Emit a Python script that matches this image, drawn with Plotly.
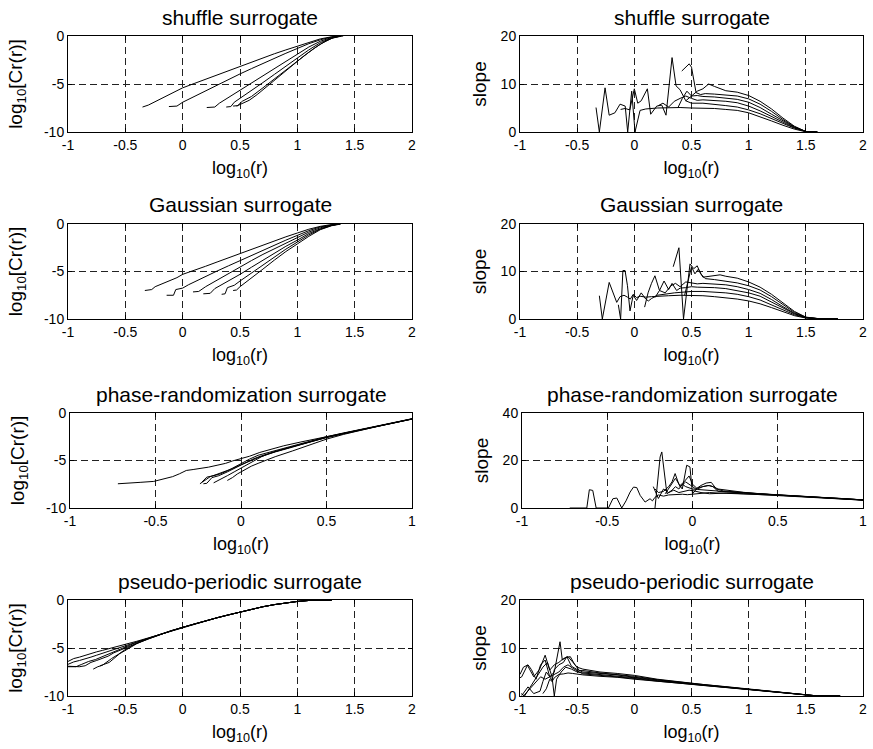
import plotly.graph_objects as go

# ---------------------------------------------------------------------------
# Correlation-integral curves log10[Cr(r)] and local slopes for four surrogate
# types, six embedding dimensions each.
# ---------------------------------------------------------------------------

# --- shuffle surrogate: correlation integral ---
shuffle_corr_x = [
    [-0.35, -0.3, -0.25, -0.2, -0.1, 0.0, 0.1, 0.2, 0.3, 0.4, 0.5, 0.6, 0.7, 0.8, 0.9, 1.0, 1.1, 1.2, 1.3, 1.38],
    [-0.12, -0.05, 0.0, 0.05, 0.1, 0.2, 0.3, 0.4, 0.5, 0.6, 0.7, 0.8, 0.9, 1.0, 1.1, 1.2, 1.3, 1.38],
    [0.21, 0.28, 0.32, 0.4, 0.5, 0.6, 0.7, 0.8, 0.9, 1.0, 1.1, 1.2, 1.3, 1.38],
    [0.38, 0.42, 0.45, 0.5, 0.6, 0.7, 0.8, 0.9, 1.0, 1.1, 1.2, 1.3, 1.38],
    [0.44, 0.48, 0.52, 0.6, 0.7, 0.8, 0.9, 1.0, 1.1, 1.2, 1.3, 1.38],
    [0.47, 0.52, 0.58, 0.65, 0.75, 0.85, 0.95, 1.05, 1.15, 1.25, 1.32, 1.4],
]
shuffle_corr_y = [
    [-7.4, -7.2, -6.9, -6.6, -6.0, -5.4, -4.95, -4.5, -4.05, -3.6, -3.15, -2.7, -2.3, -1.85, -1.45, -1.05, -0.65, -0.3, -0.08, 0.0],
    [-7.35, -7.3, -6.9, -6.6, -6.3, -5.7, -5.1, -4.5, -3.95, -3.4, -2.85, -2.3, -1.8, -1.3, -0.8, -0.4, -0.1, 0.0],
    [-7.45, -7.4, -7.0, -6.4, -5.6, -4.85, -4.1, -3.35, -2.6, -1.9, -1.15, -0.55, -0.15, 0.0],
    [-7.4, -7.35, -6.9, -6.5, -5.7, -4.85, -4.0, -3.15, -2.3, -1.45, -0.7, -0.2, 0.0],
    [-7.3, -7.25, -6.8, -6.3, -5.4, -4.45, -3.5, -2.6, -1.7, -0.85, -0.25, 0.0],
    [-7.3, -7.0, -6.7, -6.1, -5.1, -4.1, -3.1, -2.15, -1.25, -0.5, -0.15, 0.0],
]

# --- shuffle surrogate: local slope ---
shuffle_slope_x = [
    [-0.335, -0.306, -0.256, -0.22, -0.17, -0.125, -0.08, -0.058, -0.023, 0.006, 0.05, 0.1, 0.2, 0.3, 0.4, 0.5, 0.6, 0.7, 0.8, 0.9, 1.0, 1.1, 1.2, 1.3, 1.4, 1.5, 1.6],
    [-0.12, -0.08, -0.04, 0.0, 0.03, 0.06, 0.114, 0.143, 0.196, 0.24, 0.277, 0.33, 0.365, 0.4, 0.45, 0.5, 0.6, 0.7, 0.8, 0.9, 1.0, 1.1, 1.2, 1.3, 1.4, 1.5, 1.6],
    [0.21, 0.25, 0.3, 0.35, 0.4, 0.45, 0.5, 0.55, 0.6, 0.7, 0.8, 0.9, 1.0, 1.1, 1.2, 1.3, 1.4, 1.5, 1.6],
    [0.38, 0.42, 0.46, 0.5, 0.55, 0.6, 0.7, 0.8, 0.9, 1.0, 1.1, 1.2, 1.3, 1.4, 1.5, 1.6],
    [0.415, 0.48, 0.5, 0.54, 0.58, 0.62, 0.7, 0.8, 0.9, 1.0, 1.1, 1.2, 1.3, 1.4, 1.5, 1.6],
    [0.45, 0.5, 0.55, 0.6, 0.65, 0.7, 0.8, 0.9, 1.0, 1.1, 1.2, 1.3, 1.4, 1.5, 1.6],
]
shuffle_slope_y = [
    [5.1, 0.0, 9.2, 3.5, 4.0, 5.8, 5.4, 0.0, 8.5, 0.0, 4.5, 4.8, 5.0, 5.1, 5.1, 5.0, 5.0, 4.9, 4.7, 4.5, 4.0, 3.2, 2.3, 1.4, 0.6, 0.05, 0.0],
    [4.7, 4.9, 4.6, 9.0, 6.0, 6.5, 9.0, 3.7, 5.4, 5.6, 3.5, 15.5, 9.6, 8.8, 6.5, 6.0, 6.0, 5.8, 5.5, 5.2, 4.6, 3.8, 2.8, 1.7, 0.8, 0.1, 0.0],
    [5.5, 6.0, 5.2, 6.4, 7.0, 7.5, 7.0, 6.6, 6.7, 6.6, 6.4, 6.1, 5.4, 4.4, 3.2, 2.0, 0.9, 0.1, 0.0],
    [5.0, 7.0, 8.5, 7.5, 7.6, 7.4, 7.3, 7.0, 6.8, 6.2, 5.1, 3.7, 2.3, 1.0, 0.1, 0.0],
    [12.7, 14.2, 13.5, 8.2, 7.8, 8.0, 7.9, 7.7, 7.5, 6.9, 5.8, 4.3, 2.6, 1.1, 0.1, 0.0],
    [6.5, 7.5, 8.5, 9.0, 10.0, 9.5, 8.6, 8.3, 7.6, 6.4, 4.8, 2.9, 1.2, 0.1, 0.0],
]

# --- Gaussian surrogate: correlation integral ---
gauss_corr_x = [
    [-0.33, -0.3, -0.27, -0.24, -0.15, -0.05, 0.0, 0.1, 0.2, 0.3, 0.4, 0.5, 0.6, 0.7, 0.8, 0.9, 1.0, 1.1, 1.2, 1.3, 1.37],
    [-0.14, -0.08, -0.06, 0.0, 0.05, 0.15, 0.3, 0.4, 0.5, 0.6, 0.7, 0.8, 0.9, 1.0, 1.1, 1.2, 1.3, 1.37],
    [0.09, 0.14, 0.2, 0.3, 0.4, 0.5, 0.6, 0.7, 0.8, 0.9, 1.0, 1.1, 1.2, 1.3, 1.37],
    [0.18, 0.24, 0.28, 0.4, 0.5, 0.6, 0.7, 0.8, 0.9, 1.0, 1.1, 1.2, 1.3, 1.37],
    [0.34, 0.37, 0.39, 0.45, 0.5, 0.6, 0.7, 0.8, 0.9, 1.0, 1.1, 1.2, 1.3, 1.37],
    [0.44, 0.47, 0.5, 0.6, 0.7, 0.8, 0.9, 1.0, 1.1, 1.2, 1.3, 1.38],
]
gauss_corr_y = [
    [-7.0, -6.95, -6.9, -6.6, -6.15, -5.65, -5.3, -4.9, -4.45, -4.0, -3.55, -3.1, -2.65, -2.2, -1.8, -1.35, -0.95, -0.55, -0.25, -0.05, 0.0],
    [-7.5, -7.5, -6.9, -6.75, -6.4, -5.8, -4.95, -4.4, -3.85, -3.3, -2.75, -2.25, -1.7, -1.2, -0.7, -0.3, -0.08, 0.0],
    [-7.15, -7.1, -6.6, -5.9, -5.2, -4.5, -3.85, -3.2, -2.6, -2.0, -1.45, -0.85, -0.4, -0.1, 0.0],
    [-7.35, -7.3, -6.8, -6.0, -5.3, -4.55, -3.8, -3.05, -2.35, -1.7, -1.0, -0.5, -0.12, 0.0],
    [-7.4, -7.35, -6.7, -6.45, -6.0, -5.15, -4.3, -3.45, -2.65, -1.9, -1.15, -0.55, -0.15, 0.0],
    [-7.0, -6.95, -6.6, -5.7, -4.75, -3.8, -2.9, -2.1, -1.3, -0.6, -0.18, 0.0],
]

# --- Gaussian surrogate: local slope ---
gauss_slope_x = [
    [-0.306, -0.28, -0.22, -0.154, -0.125, -0.09, -0.06, -0.035, -0.01, 0.02, 0.05, 0.1, 0.15, 0.2, 0.3, 0.4, 0.5, 0.6, 0.7, 0.8, 0.9, 1.0, 1.1, 1.2, 1.3, 1.4, 1.5, 1.6, 1.7, 1.78],
    [-0.14, -0.12, -0.1, -0.081, -0.06, -0.038, -0.01, 0.02, 0.06, 0.1, 0.123, 0.15, 0.2, 0.25, 0.3, 0.35, 0.4, 0.45, 0.5, 0.6, 0.7, 0.8, 0.9, 1.0, 1.1, 1.2, 1.3, 1.4, 1.5, 1.6, 1.7, 1.78],
    [0.09, 0.12, 0.15, 0.18, 0.22, 0.26, 0.3, 0.33, 0.37, 0.4, 0.45, 0.5, 0.55, 0.6, 0.7, 0.8, 0.9, 1.0, 1.1, 1.2, 1.3, 1.4, 1.5, 1.6, 1.7, 1.78],
    [0.18, 0.22, 0.27, 0.32, 0.36, 0.4, 0.45, 0.5, 0.55, 0.6, 0.7, 0.8, 0.9, 1.0, 1.1, 1.2, 1.3, 1.4, 1.5, 1.6, 1.7, 1.78],
    [0.34, 0.365, 0.39, 0.43, 0.46, 0.487, 0.52, 0.55, 0.58, 0.62, 0.7, 0.8, 0.9, 1.0, 1.1, 1.2, 1.3, 1.4, 1.5, 1.6, 1.7, 1.78],
    [0.44, 0.47, 0.5, 0.53, 0.56, 0.6, 0.65, 0.7, 0.75, 0.8, 0.9, 1.0, 1.1, 1.2, 1.3, 1.4, 1.5, 1.6, 1.7, 1.78],
]
gauss_slope_y = [
    [4.9, 0.0, 7.7, 3.5, 4.7, 5.0, 4.6, 4.2, 5.2, 4.5, 4.8, 4.6, 4.7, 4.8, 4.9, 5.0, 5.0, 4.9, 4.7, 4.5, 4.2, 3.8, 3.2, 2.4, 1.5, 0.7, 0.2, 0.05, 0.02, 0.0],
    [3.0, 0.0, 10.2, 10.2, 7.0, 1.7, 5.0, 3.9, 5.5, 4.2, 3.8, 4.3, 5.0, 5.2, 5.3, 5.5, 5.6, 5.7, 5.8, 5.8, 5.7, 5.5, 5.2, 4.7, 4.0, 3.0, 1.9, 0.9, 0.25, 0.05, 0.02, 0.0],
    [2.5, 5.5, 7.5, 9.1, 6.0, 8.0, 6.2, 7.5, 6.0, 6.5, 6.6, 6.8, 6.7, 6.7, 6.6, 6.4, 6.0, 5.5, 4.8, 3.6, 2.3, 1.1, 0.3, 0.08, 0.03, 0.0],
    [4.5, 6.0, 5.5, 7.0, 7.5, 6.8, 7.8, 7.6, 7.4, 7.5, 7.4, 7.2, 6.8, 6.2, 5.4, 4.1, 2.6, 1.2, 0.3, 0.08, 0.03, 0.0],
    [11.0, 13.0, 15.0, 0.0, 6.0, 11.6, 10.6, 11.2, 9.5, 8.5, 8.3, 8.0, 7.6, 7.0, 6.1, 4.7, 3.0, 1.4, 0.35, 0.1, 0.03, 0.0],
    [5.0, 8.0, 11.0, 9.5, 10.5, 8.8, 9.0, 9.2, 9.3, 9.0, 8.6, 7.8, 6.7, 5.2, 3.4, 1.6, 0.4, 0.1, 0.03, 0.0],
]

# --- phase-randomization surrogate: correlation integral ---
phase_corr_x = [
    [-0.72, -0.65, -0.59, -0.51, -0.45, -0.4, -0.36, -0.32, -0.28, -0.24, -0.19, -0.14, -0.09, -0.05, 0.0, 0.05, 0.11, 0.18, 0.25, 0.35, 0.5, 0.6, 0.73, 0.85, 1.0],
    [-0.24, -0.21, -0.18, -0.14, -0.1, -0.05, 0.0, 0.05, 0.1, 0.15, 0.2, 0.3, 0.4, 0.5, 0.6, 0.7, 0.8, 0.9, 1.0],
    [-0.22, -0.2, -0.17, -0.13, -0.08, -0.03, 0.02, 0.07, 0.12, 0.18, 0.25, 0.35, 0.45, 0.5, 0.6, 0.7, 0.8, 0.9, 1.0],
    [-0.16, -0.12, -0.08, -0.04, 0.0, 0.04, 0.08, 0.12, 0.16, 0.2, 0.3, 0.4, 0.5, 0.6, 0.7, 0.8, 0.9, 1.0],
    [-0.08, -0.05, -0.02, 0.02, 0.06, 0.1, 0.15, 0.2, 0.3, 0.4, 0.5, 0.6, 0.7, 0.8, 0.9, 1.0],
    [-0.23, -0.2, -0.16, -0.12, -0.08, -0.04, 0.0, 0.05, 0.1, 0.15, 0.2, 0.3, 0.4, 0.5, 0.6, 0.7, 0.8, 0.9, 1.0],
]
phase_corr_y = [
    [-7.45, -7.4, -7.3, -7.2, -6.95, -6.7, -6.4, -6.05, -5.95, -5.85, -5.7, -5.5, -5.3, -5.05, -4.8, -4.55, -4.15, -3.8, -3.45, -3.05, -2.5, -2.15, -1.65, -1.2, -0.65],
    [-7.45, -7.1, -6.7, -6.45, -6.2, -5.85, -5.45, -5.05, -4.7, -4.4, -4.1, -3.6, -3.05, -2.55, -2.15, -1.75, -1.35, -1.0, -0.62],
    [-7.45, -7.4, -6.8, -6.6, -6.2, -5.75, -5.3, -4.85, -4.5, -4.15, -3.8, -3.3, -2.8, -2.6, -2.2, -1.78, -1.38, -1.02, -0.63],
    [-7.35, -7.0, -6.6, -6.2, -5.8, -5.35, -4.95, -4.6, -4.3, -4.05, -3.55, -3.05, -2.55, -2.15, -1.75, -1.36, -1.0, -0.62],
    [-7.1, -6.8, -6.4, -6.0, -5.6, -5.3, -4.95, -4.6, -4.0, -3.35, -2.75, -2.25, -1.8, -1.4, -1.02, -0.63],
    [-7.3, -6.75, -6.6, -6.4, -6.1, -5.7, -5.3, -4.85, -4.45, -4.2, -3.95, -3.45, -2.95, -2.5, -2.1, -1.7, -1.32, -0.98, -0.6],
]

# --- phase-randomization surrogate: local slope ---
phase_slope_x = [
    [-0.72, -0.62, -0.605, -0.585, -0.565, -0.493, -0.467, -0.444, -0.415, -0.39, -0.366, -0.346, -0.327, -0.307, -0.278, -0.249, -0.235, -0.22, -0.2, -0.17, -0.14, -0.1, -0.06, -0.03, 0.0, 0.03, 0.06, 0.1, 0.15, 0.2, 0.3, 0.4, 0.5, 0.6, 0.7, 0.8, 0.9, 1.0],
    [-0.22, -0.206, -0.19, -0.18, -0.167, -0.15, -0.12, -0.1, -0.08, -0.06, -0.04, -0.02, 0.0, 0.03, 0.06, 0.1, 0.15, 0.2, 0.3, 0.4, 0.5, 0.6, 0.7, 0.8, 0.9, 1.0],
    [-0.22, -0.2, -0.17, -0.14, -0.12, -0.102, -0.08, -0.06, -0.034, -0.015, 0.0, 0.03, 0.06, 0.1, 0.12, 0.15, 0.2, 0.3, 0.4, 0.5, 0.6, 0.7, 0.8, 0.9, 1.0],
    [-0.16, -0.13, -0.1, -0.07, -0.04, -0.01, 0.02, 0.05, 0.08, 0.11, 0.14, 0.18, 0.25, 0.3, 0.4, 0.5, 0.6, 0.7, 0.8, 0.9, 1.0],
    [-0.08, -0.05, -0.02, 0.0, 0.03, 0.06, 0.09, 0.12, 0.15, 0.2, 0.3, 0.4, 0.5, 0.6, 0.7, 0.8, 0.9, 1.0],
    [-0.23, -0.2, -0.17, -0.14, -0.11, -0.08, -0.05, -0.02, 0.01, 0.05, 0.1, 0.15, 0.2, 0.3, 0.4, 0.5, 0.6, 0.7, 0.8, 0.9, 1.0],
]
phase_slope_y = [
    [0.0, 0.0, 7.7, 7.4, 0.0, 0.0, 3.9, 4.2, 0.0, 3.0, 6.7, 8.8, 8.6, 5.3, 2.5, 3.9, 3.0, 4.5, 5.5, 5.0, 5.5, 5.7, 5.8, 5.6, 5.8, 6.0, 6.2, 6.5, 6.3, 6.2, 6.0, 5.7, 5.4, 5.0, 4.7, 4.3, 3.9, 3.4],
    [0.0, 11.6, 21.5, 23.6, 15.9, 6.0, 7.5, 9.0, 8.0, 10.0, 9.0, 8.5, 8.0, 7.8, 7.6, 7.5, 7.2, 6.8, 6.3, 5.9, 5.5, 5.1, 4.7, 4.3, 3.9, 3.4],
    [8.0, 6.5, 7.0, 9.0, 11.0, 14.5, 10.0, 8.0, 18.0, 17.3, 6.0, 8.5, 9.0, 9.5, 9.0, 7.0, 6.8, 6.4, 5.9, 5.5, 5.1, 4.7, 4.3, 3.9, 3.4],
    [6.0, 9.0, 12.5, 9.0, 11.0, 9.5, 8.0, 9.5, 10.5, 10.8, 8.0, 7.2, 6.8, 6.3, 5.8, 5.4, 5.0, 4.6, 4.2, 3.8, 3.3],
    [9.0, 11.0, 13.5, 10.0, 8.0, 9.0, 9.5, 9.0, 8.0, 7.5, 6.6, 6.0, 5.5, 5.1, 4.7, 4.3, 3.9, 3.4],
    [9.0, 4.0, 8.0, 6.5, 7.5, 6.5, 7.0, 7.5, 7.2, 6.5, 6.0, 6.1, 6.3, 6.0, 5.6, 5.3, 4.9, 4.6, 4.2, 3.8, 3.3],
]

# --- pseudo-periodic surrogate: correlation integral ---
pseudo_corr_head_x = [
    [-1.0, -0.95, -0.9, -0.85, -0.8, -0.75, -0.7, -0.6, -0.5, -0.4, -0.3],
    [-1.0, -0.95, -0.9, -0.85, -0.8, -0.75, -0.7, -0.6, -0.5, -0.4, -0.3],
    [-1.0, -0.93, -0.88, -0.82, -0.76, -0.7, -0.64, -0.58, -0.5, -0.4, -0.3],
    [-1.0, -0.9, -0.85, -0.8, -0.75, -0.7, -0.65, -0.6, -0.5, -0.4, -0.3],
    [-0.78, -0.74, -0.7, -0.66, -0.62, -0.56, -0.5, -0.4, -0.3],
    [-0.72, -0.68, -0.64, -0.6, -0.55, -0.5, -0.4, -0.3],
]
pseudo_corr_head_y = [
    [-6.4, -6.1, -5.95, -5.75, -5.6, -5.4, -5.25, -4.95, -4.65, -4.3, -3.95],
    [-6.7, -6.45, -6.3, -6.15, -5.95, -5.75, -5.55, -5.15, -4.75, -4.35, -3.98],
    [-6.95, -6.95, -6.7, -6.4, -6.2, -5.9, -5.6, -5.3, -4.85, -4.4, -4.0],
    [-6.9, -6.95, -6.85, -6.5, -6.3, -6.1, -5.85, -5.5, -5.0, -4.45, -4.02],
    [-7.2, -6.95, -6.8, -6.4, -6.1, -5.65, -5.15, -4.5, -4.05],
    [-6.85, -6.7, -6.5, -6.1, -5.6, -5.25, -4.55, -4.05],
]
pseudo_corr_tail_x = [-0.2, -0.1, 0.0, 0.1, 0.2, 0.3, 0.4, 0.5, 0.6, 0.7, 0.8, 0.9, 1.0, 1.1, 1.2, 1.3]
pseudo_corr_tail_y = [-3.6, -3.2, -2.85, -2.5, -2.15, -1.85, -1.55, -1.25, -0.95, -0.7, -0.48, -0.3, -0.15, -0.05, -0.01, 0.0]

# --- pseudo-periodic surrogate: local slope ---
pseudo_slope_head_x = [
    [-1.0, -0.985, -0.935, -0.88, -0.83, -0.78, -0.74, -0.7, -0.66, -0.62, -0.58, -0.54, -0.5],
    [-1.0, -0.97, -0.93, -0.9, -0.86, -0.82, -0.78, -0.74, -0.7, -0.665, -0.65, -0.63, -0.6, -0.56, -0.52, -0.48],
    [-0.985, -0.93, -0.88, -0.825, -0.8, -0.77, -0.74, -0.72, -0.7, -0.66, -0.62, -0.59, -0.55, -0.5],
    [-0.99, -0.96, -0.92, -0.88, -0.84, -0.8, -0.76, -0.72, -0.7, -0.68, -0.64, -0.6, -0.55, -0.5],
    [-0.97, -0.94, -0.9, -0.86, -0.82, -0.78, -0.74, -0.7, -0.66, -0.62, -0.58, -0.54, -0.5],
    [-0.8, -0.77, -0.74, -0.72, -0.7, -0.66, -0.62, -0.58, -0.54, -0.5],
]
pseudo_slope_head_y = [
    [3.8, 4.0, 6.4, 4.0, 5.5, 8.5, 5.4, 6.5, 7.0, 7.8, 8.2, 7.0, 6.0],
    [4.5, 6.0, 6.5, 5.5, 3.5, 6.5, 7.5, 4.0, 5.0, 9.5, 11.3, 7.5, 8.0, 8.2, 6.5, 5.3],
    [0.1, 1.9, 0.5, 1.0, 3.0, 5.0, 4.0, 3.2, 5.5, 6.5, 7.0, 8.2, 6.2, 5.5],
    [0.5, 0.0, 1.5, 3.0, 4.5, 6.0, 7.0, 4.0, 0.0, 3.5, 5.0, 6.0, 5.6, 5.0],
    [0.0, 0.8, 2.0, 3.0, 4.0, 3.5, 4.0, 4.5, 5.0, 6.0, 6.5, 5.8, 5.2],
    [0.5, 1.5, 3.5, 3.0, 3.8, 4.5, 4.6, 4.8, 4.7, 4.5],
]
pseudo_slope_tail_x = [-0.45, -0.3, -0.15, 0.0, 0.2, 0.4, 0.6, 0.8, 1.0, 1.2, 1.4, 1.55, 1.6, 1.8]
pseudo_slope_tail_y = [
    [5.6, 5.0, 4.7, 4.3, 3.5, 2.9, 2.4, 1.95, 1.45, 1.0, 0.5, 0.1, 0.02, 0.0],
    [5.3, 4.8, 4.5, 4.1, 3.4, 2.85, 2.35, 1.9, 1.4, 0.95, 0.5, 0.1, 0.02, 0.0],
    [5.0, 4.7, 4.4, 3.9, 3.3, 2.8, 2.3, 1.9, 1.4, 0.95, 0.48, 0.1, 0.02, 0.0],
    [4.8, 4.5, 4.2, 3.8, 3.2, 2.75, 2.3, 1.85, 1.38, 0.92, 0.47, 0.1, 0.02, 0.0],
    [4.6, 4.3, 4.0, 3.65, 3.1, 2.7, 2.25, 1.85, 1.36, 0.9, 0.46, 0.1, 0.02, 0.0],
    [4.4, 4.1, 3.9, 3.5, 3.0, 2.65, 2.2, 1.8, 1.35, 0.9, 0.45, 0.1, 0.02, 0.0],
]

pseudo_corr_x = [h + pseudo_corr_tail_x for h in pseudo_corr_head_x]
pseudo_corr_y = [h + pseudo_corr_tail_y for h in pseudo_corr_head_y]
pseudo_slope_x = [h + pseudo_slope_tail_x for h in pseudo_slope_head_x]
pseudo_slope_y = [h + t for h, t in zip(pseudo_slope_head_y, pseudo_slope_tail_y)]

# --- titles and tick labels ---
titles = ["shuffle surrogate", "Gaussian surrogate",
          "phase-randomization surrogate", "pseudo-periodic surrogate"]
x_label = "log<sub>10</sub>(r)"
y_label_corr = "log<sub>10</sub>[Cr(r)]"
y_label_slope = "slope"
x_ticks_wide = [-1, -0.5, 0, 0.5, 1, 1.5, 2]
x_ticks_narrow = [-1, -0.5, 0, 0.5, 1]
y_ticks_corr = [-10, -5, 0]
y_ticks_slope = [0, 10, 20]
y_ticks_slope_wide = [0, 20, 40]


def tick_text(vals):
    # plain hyphen-minus for negative tick labels
    return [("%g" % v) for v in vals]


# --- layout geometry (pixels of the 873 x 749 page) ---
W, H = 873, 749
row_px = [(36, 132), (224, 319), (413, 508), (600, 696)]
left_px = [(68, 412), (68, 412), (70, 412), (68, 412)]
right_px = [(520, 863), (520, 863), (522, 863), (520, 863)]

FONT = "Liberation Sans, Arial, Helvetica, sans-serif"

panels = []
for r, (cx, cy, sx, sy) in enumerate([
        (shuffle_corr_x, shuffle_corr_y, shuffle_slope_x, shuffle_slope_y),
        (gauss_corr_x, gauss_corr_y, gauss_slope_x, gauss_slope_y),
        (phase_corr_x, phase_corr_y, phase_slope_x, phase_slope_y),
        (pseudo_corr_x, pseudo_corr_y, pseudo_slope_x, pseudo_slope_y)]):
    xt = x_ticks_narrow if r == 2 else x_ticks_wide
    panels.append(dict(row=r, col=0, xs=cx, ys=cy, xticks=xt, yticks=y_ticks_corr,
                       ylabel=y_label_corr))
    panels.append(dict(row=r, col=1, xs=sx, ys=sy, xticks=xt,
                       yticks=y_ticks_slope_wide if r == 2 else y_ticks_slope,
                       ylabel=y_label_slope))

fig = go.Figure()
annotations = []

for i, p in enumerate(panels):
    n = i + 1
    xa = "x" if n == 1 else "x%d" % n
    ya = "y" if n == 1 else "y%d" % n
    top, bot = row_px[p["row"]]
    x0, x1 = (left_px if p["col"] == 0 else right_px)[p["row"]]

    for xs, ys in zip(p["xs"], p["ys"]):
        fig.add_trace(go.Scatter(x=xs, y=ys, mode="lines", xaxis=xa, yaxis=ya,
                                 line=dict(color="black", width=1),
                                 showlegend=False, hoverinfo="skip"))

    common = dict(showline=True, linecolor="black", linewidth=1, mirror="ticks",
                  ticks="inside", ticklen=4, tickcolor="black", tickwidth=1,
                  showgrid=True, gridcolor="#222222", gridwidth=1, griddash="7px,4px",
                  zeroline=False, automargin=False,
                  tickfont=dict(family=FONT, size=14, color="black"))
    fig.layout["xaxis%d" % n] = dict(
        common, domain=[x0 / W, x1 / W], anchor=ya,
        range=[p["xticks"][0], p["xticks"][-1]],
        tickmode="array", tickvals=p["xticks"], ticktext=tick_text(p["xticks"]),
        title=dict(text=x_label, standoff=9,
                   font=dict(family=FONT, size=18, color="black")))
    fig.layout["yaxis%d" % n] = dict(
        common, domain=[1 - bot / H, 1 - top / H], anchor=xa,
        range=[p["yticks"][0], p["yticks"][-1]],
        tickmode="array", tickvals=p["yticks"], ticktext=tick_text(p["yticks"]),
        title=dict(text=p["ylabel"], standoff=16 if p["col"] == 0 else 8,
                   font=dict(family=FONT, size=19, color="black")))

    xc = (x0 + x1) / 2 / W
    annotations.append(dict(text=titles[p["row"]], x=xc, y=1 - (top - 19) / H,
                            xref="paper", yref="paper", xanchor="center", yanchor="middle",
                            showarrow=False, font=dict(family=FONT, size=21, color="black")))

fig.update_layout(width=W, height=H, margin=dict(l=0, r=0, t=0, b=0),
                  paper_bgcolor="white", plot_bgcolor="white",
                  font=dict(family=FONT, size=14, color="black"),
                  template="none", annotations=annotations, showlegend=False)

fig.write_html("out.html")
